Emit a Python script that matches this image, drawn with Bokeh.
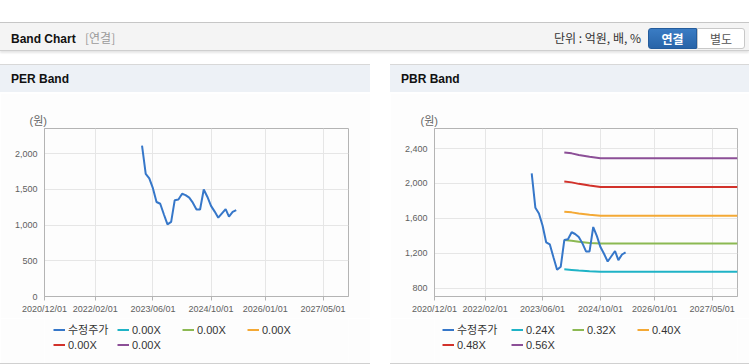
import pandas as pd
from bokeh.plotting import figure
from bokeh.models import (Range1d, FixedTicker, DatetimeTickFormatter, NumeralTickFormatter,
                          Legend, LegendItem, Title, Div, Spacer)
from bokeh.layouts import column, row
from bokeh.embed import file_html
from bokeh.resources import INLINE

# ---------------- data ----------------
price_dates = ["2023-03-01", "2023-04-01", "2023-05-01", "2023-06-01", "2023-07-01", "2023-08-01",
               "2023-09-01", "2023-10-01", "2023-11-01", "2023-12-01", "2024-01-01", "2024-02-01",
               "2024-03-01", "2024-04-01", "2024-05-01", "2024-06-01", "2024-07-01", "2024-08-01",
               "2024-09-01", "2024-10-01", "2024-11-01", "2024-12-01", "2025-01-01", "2025-02-01",
               "2025-03-01", "2025-04-01", "2025-05-01"]
price_values = [2115, 1720, 1655, 1515, 1325, 1300,
                1150, 1010, 1045, 1350, 1360, 1440,
                1420, 1385, 1315, 1220, 1220, 1500,
                1395, 1270, 1190, 1105, 1165, 1225,
                1120, 1185, 1210]

band_dates = ["2023-12-01", "2024-02-01", "2024-04-01", "2024-07-01", "2024-10-01", "2027-12-01"]
pbr_band_024 = [1015, 1008, 1000, 993, 988, 988]
pbr_band_032 = [1350, 1342, 1330, 1318, 1310, 1310]
pbr_band_040 = [1676, 1668, 1655, 1640, 1628, 1628]
pbr_band_048 = [2022, 2012, 1995, 1975, 1960, 1960]
pbr_band_056 = [2355, 2345, 2325, 2305, 2290, 2290]
per_band_000 = [0, 0, 0, 0, 0, 0]          # PER bands are all 0.00X (not drawn in the chart)
pbr_band_labels = ["0.24X", "0.32X", "0.40X", "0.48X", "0.56X"]
per_band_labels = ["0.00X", "0.00X", "0.00X", "0.00X", "0.00X"]
price_label = "수정주가"

x_tick_dates = ["2020-12-01", "2022-02-01", "2023-06-01", "2024-10-01", "2026-01-01", "2027-05-01"]
x_start, x_end = "2020-12-01", "2027-12-01"
per_y_ticks = [0, 500, 1000, 1500, 2000]
per_y_range = (0, 2355)
pbr_y_ticks = [800, 1200, 1600, 2000, 2400]
pbr_y_range = (703, 2630)

band_colors = ["#1fb3c6", "#8cb953", "#f4a935", "#d2322b", "#8c4f97"]
price_color = "#3677c9"

FONT = "Liberation Sans, Noto Sans CJK KR"
BG = "#fdfdfd"


def ms(d):
    return pd.Timestamp(d).value // 10**6


def make_chart(width, border_left, border_right, y_rng, y_ticks, band_vals, unit_dx):
    p = figure(width=width, height=225, output_backend="svg", toolbar_location=None,
               x_axis_type="datetime",
               x_range=Range1d(pd.Timestamp(x_start), pd.Timestamp(x_end)),
               y_range=Range1d(*y_rng),
               min_border_left=border_left, min_border_right=border_right,
               min_border_top=35, min_border_bottom=22)
    p.title.visible = False
    p.background_fill_color = BG
    p.border_fill_color = BG
    p.outline_line_color = "#b4b4b4"

    xa = p.xaxis[0]
    xa.ticker = FixedTicker(ticks=[ms(d) for d in x_tick_dates])
    fmt = "%Y/%m/%d"
    xa.formatter = DatetimeTickFormatter(microseconds=fmt, milliseconds=fmt, seconds=fmt,
                                         minsec=fmt, minutes=fmt, hourmin=fmt, hours=fmt,
                                         days=fmt, months=fmt, years=fmt)
    xa.axis_line_color = "#b4b4b4"
    xa.major_tick_line_color = "#b4b4b4"
    xa.major_tick_out = 4
    xa.major_tick_in = 0
    xa.minor_tick_line_color = None
    xa.major_label_standoff = 3
    xa.major_label_text_font = FONT
    xa.major_label_text_font_size = "9px"
    xa.major_label_text_color = "#606060"

    ya = p.yaxis[0]
    ya.ticker = FixedTicker(ticks=y_ticks)
    ya.formatter = NumeralTickFormatter(format="0,0")
    ya.axis_line_color = "#b4b4b4"
    ya.major_tick_line_color = None
    ya.major_tick_out = 0
    ya.major_tick_in = 0
    ya.minor_tick_line_color = None
    ya.major_label_standoff = 7
    ya.major_label_text_font = FONT
    ya.major_label_text_font_size = "9px"
    ya.major_label_text_color = "#606060"

    p.xgrid.grid_line_color = "#e6e6e6"
    p.ygrid.grid_line_color = "#e6e6e6"

    bdates = pd.to_datetime(band_dates)
    for vals, col in zip(band_vals, band_colors):
        if vals is not None:
            p.line(x=bdates, y=vals, line_color=col, line_width=2)
    p.line(x=pd.to_datetime(price_dates), y=price_values, line_color=price_color, line_width=2)

    unit = Title(text="(원)", align="left", offset=unit_dx, standoff=3,
                 text_font=FONT, text_font_size="11px", text_font_style="normal",
                 text_color="#666666")
    p.add_layout(unit, "above")
    return p


def make_legend(width, border_left, border_right, band_vals, band_labels, col_x):
    # legend strip below each chart: hidden copies of the series supply the legend glyphs
    q = figure(width=width, height=45, output_backend="svg", toolbar_location=None,
               x_axis_type="datetime",
               x_range=Range1d(pd.Timestamp(x_start), pd.Timestamp(x_end)),
               y_range=Range1d(0, 1),
               x_axis_location=None, y_axis_location=None,
               min_border=0, min_border_left=border_left, min_border_right=border_right,
               min_border_top=0, min_border_bottom=0)
    q.title.visible = False
    q.grid.visible = False
    q.outline_line_color = None
    q.background_fill_color = BG
    q.border_fill_color = BG
    r_price = q.line(x=pd.to_datetime(price_dates), y=price_values, line_color=price_color,
                     line_width=2, visible=False)
    bdates = pd.to_datetime(band_dates)
    rs = [q.line(x=bdates, y=v, line_color=c, line_width=2, visible=False)
          for v, c in zip(band_vals, band_colors)]
    entries = [(price_label, r_price)] + list(zip(band_labels, rs))
    columns = [[0, 4], [1, 5], [2], [3]]
    for idxs, xo in zip(columns, col_x):
        items = [LegendItem(label=entries[i][0], renderers=[entries[i][1]]) for i in idxs]
        ybottom = 11 if len(idxs) == 2 else 26
        lg = Legend(items=items, location=(xo, ybottom), orientation="vertical",
                    padding=0, margin=0, spacing=0, glyph_width=12, glyph_height=15,
                    label_height=15, label_standoff=3, label_text_font=FONT,
                    label_text_font_size="11px", label_text_color="#333333",
                    border_line_color=None, background_fill_alpha=0)
        q.add_layout(lg)
    return q


per = make_chart(370, 44, 22, per_y_range, per_y_ticks, [None] * 5, -15)
pbr = make_chart(359, 44, 12, pbr_y_range, pbr_y_ticks,
                 [pbr_band_024, pbr_band_032, pbr_band_040, pbr_band_048, pbr_band_056], -14)
per_leg = make_legend(370, 44, 22, [per_band_000] * 5, per_band_labels, [9, 73, 138, 203])
pbr_leg = make_legend(359, 44, 12,
                      [pbr_band_024, pbr_band_032, pbr_band_040, pbr_band_048, pbr_band_056],
                      pbr_band_labels, [8, 77, 138, 203])

header_html = """
<div style="position:relative;width:749px;height:93px;overflow:hidden;background:#ffffff;
 font-family:'Liberation Sans','Noto Sans CJK KR',sans-serif;">
  <div style="position:absolute;left:0;top:22px;width:749px;height:29px;background:#f4f4f4;
   border-top:1px solid #c6c6c6;border-bottom:1px solid #cfcfcf;box-shadow:0 2px 2px rgba(0,0,0,0.10);"></div>
  <div style="position:absolute;left:11px;top:23px;height:29px;line-height:29px;font-size:12px;
   font-weight:bold;color:#111;white-space:nowrap;">Band Chart
   <span style="font-weight:normal;color:#9a9a9a;margin-left:6px;font-family:'Noto Sans CJK KR',sans-serif;">[연결]</span></div>
  <div style="position:absolute;right:108px;top:23px;height:29px;line-height:29px;font-size:12px;
   color:#333;white-space:nowrap;font-family:'Noto Sans CJK KR',sans-serif;">단위 : 억원, 배, %</div>
  <div style="position:absolute;left:648px;top:28px;width:49px;height:21px;line-height:19px;
   background:linear-gradient(#3a7cc4,#2864a8);border:1px solid #245c9c;border-radius:3px 0 0 3px;
   color:#fff;font-size:12px;font-weight:bold;text-align:center;box-sizing:border-box;
   font-family:'Noto Sans CJK KR',sans-serif;">연결</div>
  <div style="position:absolute;left:697px;top:28px;width:48px;height:21px;line-height:19px;
   background:#fff;border:1px solid #c8c8c8;border-radius:0 3px 3px 0;box-sizing:border-box;
   color:#555;font-size:12px;text-align:center;font-family:'Noto Sans CJK KR',sans-serif;">별도</div>
  <div style="position:absolute;left:0;top:64px;width:370px;height:28px;background:#edf1f6;
   border-top:1px solid #d8d8d8;"></div>
  <div style="position:absolute;left:390px;top:64px;width:359px;height:28px;background:#edf1f6;
   border-top:1px solid #d8d8d8;"></div>
  <div style="position:absolute;left:11px;top:65px;height:28px;line-height:28px;font-size:12px;
   font-weight:bold;color:#111;">PER Band</div>
  <div style="position:absolute;left:401px;top:65px;height:28px;line-height:28px;font-size:12px;
   font-weight:bold;color:#111;">PBR Band</div>
</div>
"""
header = Div(text=header_html, width=749, height=93, margin=0)

foot_l = Div(text="", width=370, height=1, margin=0, styles={"background-color": "#d0d0d0"})
foot_r = Div(text="", width=359, height=1, margin=0, styles={"background-color": "#d0d0d0"})

layout = column(header,
                row(column(per, per_leg, spacing=0), Spacer(width=20, height=270),
                    column(pbr, pbr_leg, spacing=0), spacing=0),
                row(foot_l, Spacer(width=20, height=1), foot_r, spacing=0),
                spacing=0)

open("out.html", "w").write(file_html(layout, INLINE))
